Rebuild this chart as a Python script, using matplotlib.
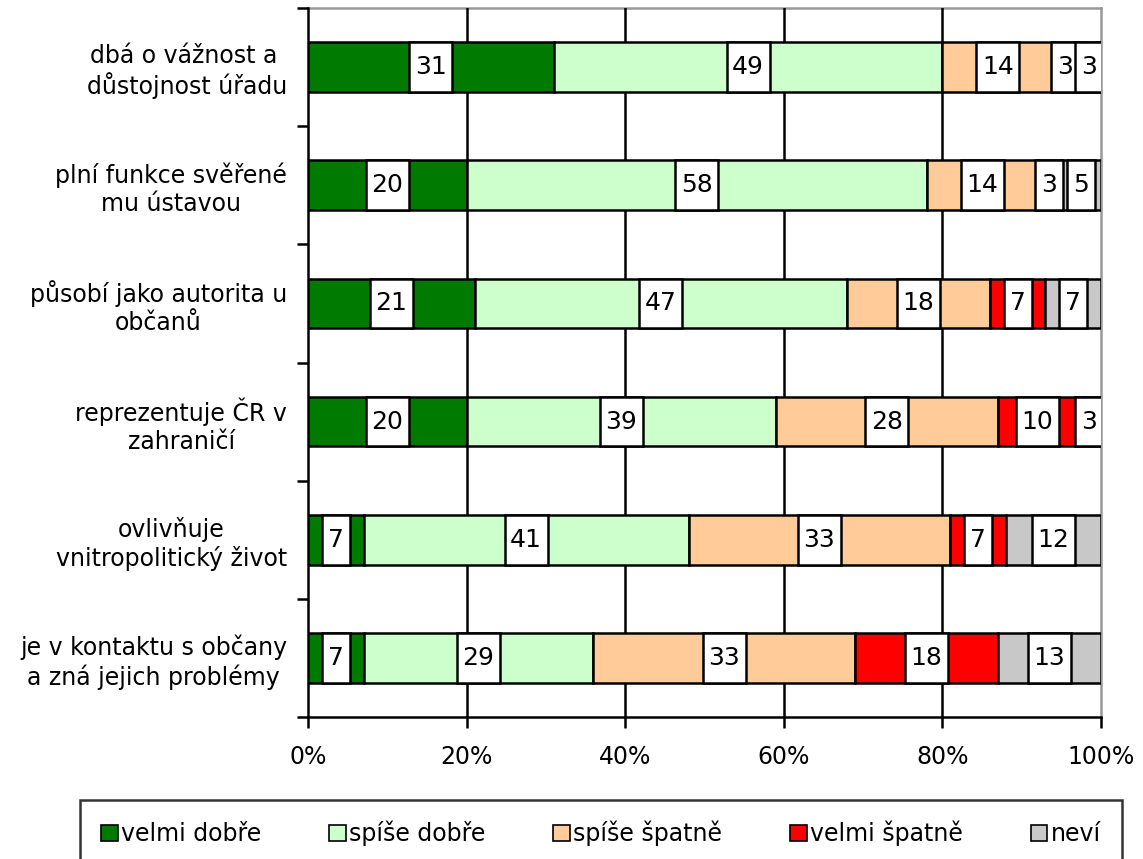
import numpy as np
import matplotlib.pyplot as plt
from matplotlib.patches import Patch

categories = ['dbá o vážnost a \ndůstojnost úřadu',
              'plní funkce svěřené\nmu ústavou',
              'působí jako autorita u\nobčanů',
              'reprezentuje ČR v\nzahraničí',
              'ovlivňuje\nvnitropolitický život',
              'je v kontaktu s občany\na zná jejich problémy']
series = ['velmi dobře', 'spíše dobře', 'spíše špatně', 'velmi špatně', 'neví']
velmi_dobre = [31, 20, 21, 20, 7, 7]
spise_dobre = [49, 58, 47, 39, 41, 29]
spise_spatne = [14, 14, 18, 28, 33, 33]
velmi_spatne = [3, 3, 7, 10, 7, 18]
nevi = [3, 5, 7, 3, 12, 13]
colors = ['#007A00', '#CCFFCC', '#FFCC99', '#FF0000', '#C8C8C8']

data = np.array([velmi_dobre, spise_dobre, spise_spatne, velmi_spatne, nevi])

fig = plt.figure(figsize=(11.43, 8.59), dpi=100)
ax = fig.add_axes([308/1143, 1 - 717/859, (1101 - 308)/1143, (717 - 8)/859])

y = np.arange(len(categories))
bar_h = 0.42
fs = 17
px_per_pct = (1101 - 308) / 100.0

left = np.zeros(len(categories))
for i in range(len(series)):
    ax.barh(y, data[i], left=left, height=bar_h, color=colors[i],
            edgecolor='black', linewidth=1.8, zorder=3)
    for j in range(len(categories)):
        val = data[i][j]
        txt = str(val)
        box_w = (len(txt) * 15 + 13) / px_per_pct
        cx = left[j] + val / 2.0
        ax.barh(y[j], box_w, left=cx - box_w / 2.0, height=bar_h,
                color='white', edgecolor='black', linewidth=1.8, zorder=4)
        ax.text(cx, y[j], txt, ha='center', va='center', fontsize=18, zorder=5)
    left = left + data[i]

ax.set_xlim(0, 100)
ax.set_ylim(len(categories) - 0.5, -0.5)
ax.set_xticks(np.arange(0, 101, 20))
ax.set_xticklabels(['%d%%' % v for v in range(0, 101, 20)], fontsize=fs)
ax.tick_params(axis='x', direction='out', length=8, width=1.8, pad=12)

ax.set_yticks(y)
ax.set_yticklabels(categories, fontsize=fs)
for lab in ax.get_yticklabels():
    lab.set_multialignment('center')
ax.tick_params(axis='y', which='major', length=0, pad=15)
ax.set_yticks(np.arange(-0.5, len(categories)), minor=True)
ax.tick_params(axis='y', which='minor', direction='out', length=8, width=1.8)

for v in [20, 40, 60, 80]:
    ax.axvline(v, color='black', linewidth=1.8, zorder=1)

ax.spines['left'].set_linewidth(1.8)
ax.spines['bottom'].set_linewidth(1.8)
ax.spines['top'].set_color('#999999')
ax.spines['right'].set_color('#999999')
ax.spines['top'].set_linewidth(1.8)
ax.spines['right'].set_linewidth(1.8)
ax.spines['top'].set_zorder(0)
ax.spines['right'].set_zorder(0)

handles = [Patch(facecolor=c, edgecolor='black', linewidth=1.2) for c in colors]
leg = fig.legend(handles, series, loc='lower left', ncol=5, mode='expand',
                 bbox_to_anchor=(80/1143, -0.01, (1122 - 80)/1143, 0.082),
                 fontsize=fs, frameon=True, fancybox=False, edgecolor='black',
                 handlelength=0.7, handleheight=0.7, handletextpad=0.15,
                 borderaxespad=0, borderpad=0.9)
leg.get_frame().set_linewidth(1.8)

fig.savefig('out.png', dpi=100)
